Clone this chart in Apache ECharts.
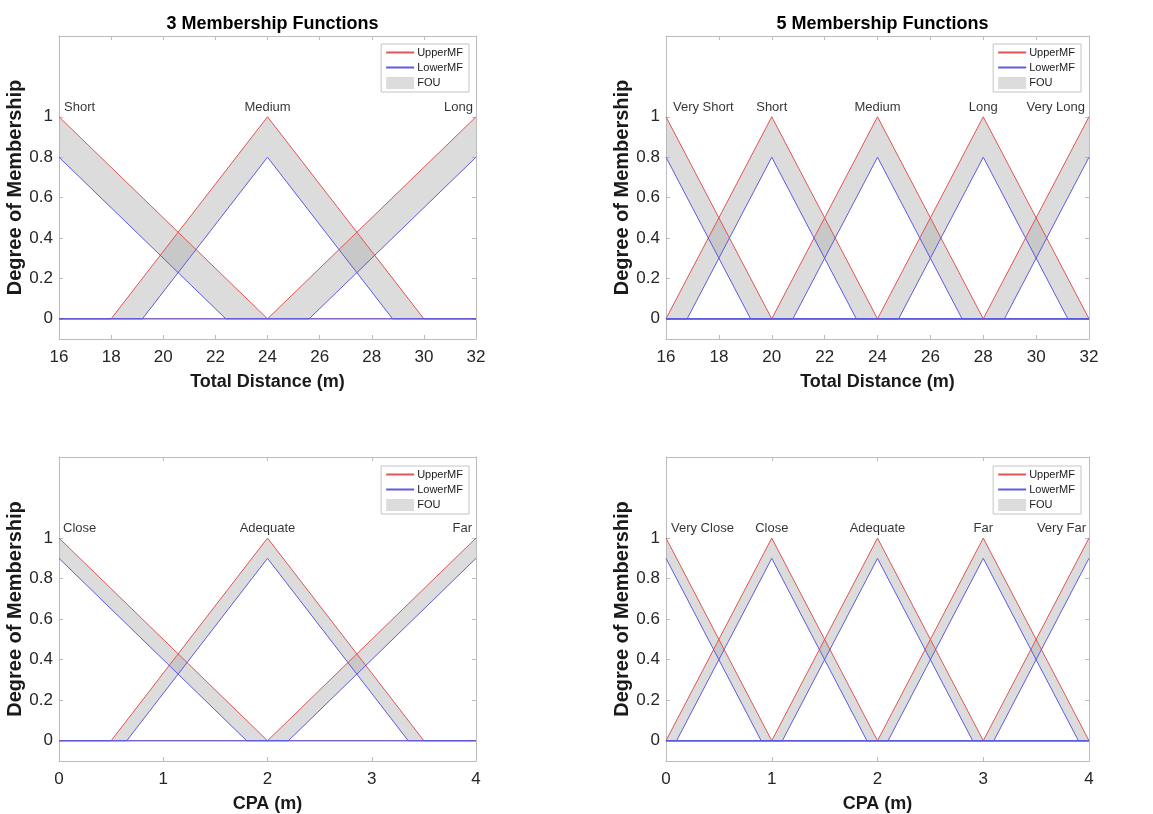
<!DOCTYPE html>
<html>
<head>
<meta charset="utf-8">
<script src="https://cdn.jsdelivr.net/npm/echarts@6/dist/echarts.min.js"></script>
<style>
  html, body { margin: 0; padding: 0; background: #fff; }
  #chart { width: 1153px; height: 814px; }
</style>
</head>
<body>
<div id="chart"></div>
<script>
// Interval type-2 triangular membership functions.
// Each triangle is [left foot, peak, right foot]; a foot equal to the peak is a shoulder at the range edge.
const upperPeak = 1;
const yTicks = [0, 0.2, 0.4, 0.6, 0.8, 1];

const distanceRange = [16, 32];
const distanceStep = 2;

const distance3Names = ['Short', 'Medium', 'Long'];
const distance3Upper = [[16, 16, 24], [18, 24, 30], [24, 32, 32]];
const distance3Lower = [[16, 16, 22.4], [19.2, 24, 28.8], [25.6, 32, 32]];
const distance3LowerPeak = 0.8;

const distance5Names = ['Very Short', 'Short', 'Medium', 'Long', 'Very Long'];
const distance5Upper = [[16, 16, 20], [16, 20, 24], [20, 24, 28], [24, 28, 32], [28, 32, 32]];
const distance5Lower = [[16, 16, 19.2], [16.8, 20, 23.2], [20.8, 24, 27.2], [24.8, 28, 31.2], [28.8, 32, 32]];
const distance5LowerPeak = 0.8;

const cpaRange = [0, 4];
const cpaStep = 1;

const cpa3Names = ['Close', 'Adequate', 'Far'];
const cpa3Upper = [[0, 0, 2], [0.5, 2, 3.5], [2, 4, 4]];
const cpa3Lower = [[0, 0, 1.8], [0.65, 2, 3.35], [2.2, 4, 4]];
const cpa3LowerPeak = 0.9;

const cpa5Names = ['Very Close', 'Close', 'Adequate', 'Far', 'Very Far'];
const cpa5Upper = [[0, 0, 1], [0, 1, 2], [1, 2, 3], [2, 3, 4], [3, 4, 4]];
const cpa5Lower = [[0, 0, 0.9], [0.1, 1, 1.9], [1.1, 2, 2.9], [2.1, 3, 3.9], [3.1, 4, 4]];
const cpa5LowerPeak = 0.9;

// Styling
const FONT = '"Liberation Sans", Arial, Helvetica, sans-serif';
const UPPER_COLOR = '#e05555';
const LOWER_COLOR = '#5c5ce0';
const FOU_COLOR = 'rgba(173,173,173,0.43)';
const FOU_SWATCH = '#dcdcdc';
const BOX_COLOR = '#bcbcbc';
const TEXT_COLOR = '#262626';

const panels = [
  { title: '3 Membership Functions', xName: 'Total Distance (m)', range: distanceRange, step: distanceStep,
    names: distance3Names, upper: distance3Upper, lower: distance3Lower, lowerPeak: distance3LowerPeak,
    grid: { left: 59, top: 36, width: 417, height: 303 }, legend: { right: 684, top: 44 }, labelIn: [5, 3] },
  { title: '5 Membership Functions', xName: 'Total Distance (m)', range: distanceRange, step: distanceStep,
    names: distance5Names, upper: distance5Upper, lower: distance5Lower, lowerPeak: distance5LowerPeak,
    grid: { left: 666, top: 36, width: 423, height: 303 }, legend: { right: 72, top: 44 }, labelIn: [7, 4] },
  { title: '', xName: 'CPA (m)', range: cpaRange, step: cpaStep,
    names: cpa3Names, upper: cpa3Upper, lower: cpa3Lower, lowerPeak: cpa3LowerPeak,
    grid: { left: 59, top: 457, width: 417, height: 304 }, legend: { right: 684, top: 466 }, labelIn: [4, 4] },
  { title: '', xName: 'CPA (m)', range: cpaRange, step: cpaStep,
    names: cpa5Names, upper: cpa5Upper, lower: cpa5Lower, lowerPeak: cpa5LowerPeak,
    grid: { left: 666, top: 457, width: 423, height: 304 }, legend: { right: 72, top: 466 }, labelIn: [5, 3] }
];

// Polyline of one triangle; extend along zero to the range ends when asked.
function vertices(tri, peak, range, extend) {
  const [a, b, c] = tri;
  const pts = [];
  if (b > range[0]) {
    if (extend && a > range[0]) pts.push([range[0], 0]);
    pts.push([a, 0]);
  }
  pts.push([b, peak]);
  if (b < range[1]) {
    pts.push([c, 0]);
    if (extend && c < range[1]) pts.push([range[1], 0]);
  }
  return pts;
}

const n = panels.length;
const grids = [], xAxes = [], yAxes = [], titles = [], legends = [], series = [];

const tickStyle = { show: true, inside: true, length: 4, lineStyle: { color: BOX_COLOR, width: 1 } };
const lineAxis = { show: true, onZero: false, lineStyle: { color: BOX_COLOR, width: 1 } };

panels.forEach((p, k) => {
  grids.push(Object.assign({ containLabel: false }, p.grid));

  if (p.title) {
    titles.push({
      text: p.title,
      left: p.grid.left + p.grid.width / 2,
      top: 10,
      textAlign: 'center',
      textStyle: { fontFamily: FONT, fontSize: 18, fontWeight: 'bold', color: '#000' }
    });
  }

  legends.push({
    orient: 'vertical',
    right: p.legend.right,
    top: p.legend.top,
    itemWidth: 28,
    itemHeight: 12,
    itemGap: 4,
    padding: [3, 6, 3, 4],
    borderColor: '#c4c4c4',
    borderWidth: 1,
    borderRadius: 0,
    backgroundColor: '#fff',
    selectedMode: false,
    textStyle: { fontFamily: FONT, fontSize: 11, color: '#1a1a1a', padding: [0, 0, 0, -2] },
    data: [
      { name: 'UpperMF', itemStyle: { opacity: 0 } },
      { name: 'LowerMF', itemStyle: { opacity: 0 } },
      { name: 'FOU', icon: 'rect', itemStyle: { color: FOU_SWATCH } }
    ]
  });

  // bottom x axis (index k) and top mirror (index k + n)
  xAxes[k] = {
    gridIndex: k, type: 'value', position: 'bottom',
    min: p.range[0], max: p.range[1], interval: p.step,
    name: p.xName, nameLocation: 'middle', nameGap: 34,
    nameTextStyle: { fontFamily: FONT, fontSize: 18, fontWeight: 'bold', color: '#1a1a1a' },
    axisLine: lineAxis, axisTick: tickStyle,
    axisLabel: { fontFamily: FONT, fontSize: 17, color: TEXT_COLOR, margin: 10 },
    splitLine: { show: false }
  };
  xAxes[k + n] = {
    gridIndex: k, type: 'value', position: 'top',
    min: p.range[0], max: p.range[1], interval: p.step,
    axisLine: lineAxis, axisTick: tickStyle,
    axisLabel: { show: false }, splitLine: { show: false }
  };
  yAxes[k] = {
    gridIndex: k, type: 'value', position: 'left',
    min: -0.1, max: 1.4,
    name: 'Degree of Membership', nameLocation: 'middle', nameGap: 32,
    nameTextStyle: { fontFamily: FONT, fontSize: 20, fontWeight: 'bold', color: '#1a1a1a' },
    axisLine: lineAxis,
    axisTick: Object.assign({ customValues: yTicks }, tickStyle),
    axisLabel: { customValues: yTicks, fontFamily: FONT, fontSize: 17, color: TEXT_COLOR, margin: 6 },
    splitLine: { show: false }
  };
  yAxes[k + n] = {
    gridIndex: k, type: 'value', position: 'right',
    min: -0.1, max: 1.4,
    axisLine: lineAxis,
    axisTick: Object.assign({ customValues: yTicks }, tickStyle),
    axisLabel: { show: false }, splitLine: { show: false }
  };

  // footprint of uncertainty: region between upper and lower functions, one polygon per function
  p.names.forEach((nm, i) => {
    series.push({
      type: 'custom', name: 'FOU', xAxisIndex: k, yAxisIndex: k,
      silent: true, z: 1,
      itemStyle: { color: FOU_SWATCH },
      data: [[p.upper[i][1], upperPeak]],
      encode: { x: 0, y: 1 },
      renderItem: function (params, api) {
        const up = vertices(p.upper[i], upperPeak, p.range, false);
        const lo = vertices(p.lower[i], p.lowerPeak, p.range, false).reverse();
        const pts = up.concat(lo).map(pt => api.coord(pt));
        return {
          type: 'polygon',
          shape: { points: pts },
          style: { fill: FOU_COLOR, stroke: 'none', lineWidth: 0 }
        };
      }
    });
  });

  p.names.forEach((nm, i) => {
    series.push({
      type: 'line', name: 'UpperMF', xAxisIndex: k, yAxisIndex: k,
      symbol: 'none', silent: true, z: 6,
      lineStyle: { color: UPPER_COLOR, width: 1 },
      itemStyle: { color: UPPER_COLOR },
      data: vertices(p.upper[i], upperPeak, p.range, true)
    });
  });
  p.names.forEach((nm, i) => {
    series.push({
      type: 'line', name: 'LowerMF', xAxisIndex: k, yAxisIndex: k,
      symbol: 'none', silent: true, z: 7,
      lineStyle: { color: LOWER_COLOR, width: 1 },
      itemStyle: { color: LOWER_COLOR },
      data: vertices(p.lower[i], p.lowerPeak, p.range, true)
    });
  });

  // function names above each peak
  const last = p.names.length - 1;
  series.push({
    type: 'scatter', name: 'names', xAxisIndex: k, yAxisIndex: k,
    symbolSize: 0, silent: true, z: 8,
    data: p.names.map((nm, i) => {
      const item = { name: nm, value: [p.upper[i][1], upperPeak] };
      if (i === 0) item.label = { align: 'left', offset: [p.labelIn[0], 0] };
      if (i === last) item.label = { align: 'right', offset: [-p.labelIn[1], 0] };
      return item;
    }),
    label: {
      show: true, position: 'top', distance: 3, formatter: '{b}',
      fontFamily: FONT, fontSize: 13, color: '#000'
    }
  });
});

const chart = echarts.init(document.getElementById('chart'), null, { renderer: 'canvas' });
chart.setOption({
  animation: false,
  backgroundColor: '#fff',
  title: titles,
  legend: legends,
  grid: grids,
  xAxis: xAxes,
  yAxis: yAxes,
  series: series
});
</script>
</body>
</html>
